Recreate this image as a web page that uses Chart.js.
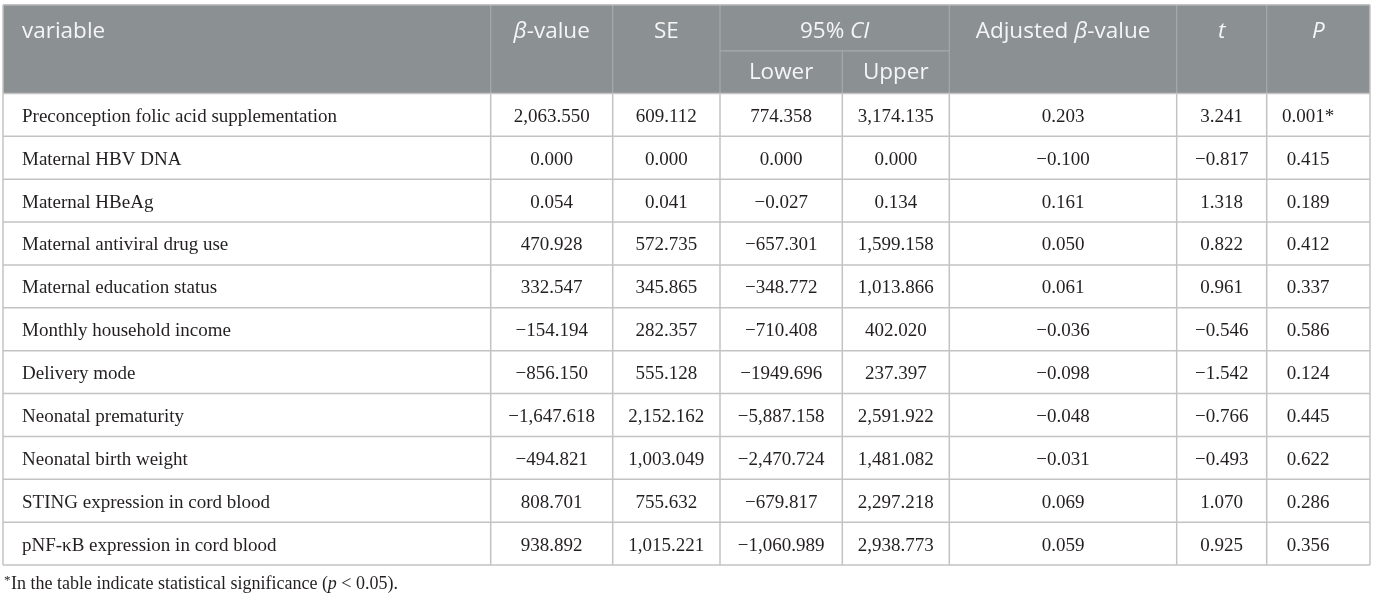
<!DOCTYPE html>
<html>
<head>
<meta charset="utf-8">
<title>Regression table</title>
<script src="https://cdn.jsdelivr.net/npm/chart.js@4.4.1/dist/chart.umd.min.js"></script>
<style>
    html, body { margin: 0; padding: 0; background: #ffffff; }
    canvas { display: block; }
</style>
</head>
<body>
<canvas id="tableChart" width="1375" height="599"></canvas>
<script>
// table values, one array per column
const variables = [
    'Preconception folic acid supplementation',
    'Maternal HBV DNA',
    'Maternal HBeAg',
    'Maternal antiviral drug use',
    'Maternal education status',
    'Monthly household income',
    'Delivery mode',
    'Neonatal prematurity',
    'Neonatal birth weight',
    'STING expression in cord blood',
    'pNF-\u03BAB expression in cord blood'
];
const betaValues = ['2,063.550', '0.000', '0.054', '470.928', '332.547', '\u2212154.194', '\u2212856.150', '\u22121,647.618', '\u2212494.821', '808.701', '938.892'];
const seValues = ['609.112', '0.000', '0.041', '572.735', '345.865', '282.357', '555.128', '2,152.162', '1,003.049', '755.632', '1,015.221'];
const ciLower = ['774.358', '0.000', '\u22120.027', '\u2212657.301', '\u2212348.772', '\u2212710.408', '\u22121949.696', '\u22125,887.158', '\u22122,470.724', '\u2212679.817', '\u22121,060.989'];
const ciUpper = ['3,174.135', '0.000', '0.134', '1,599.158', '1,013.866', '402.020', '237.397', '2,591.922', '1,481.082', '2,297.218', '2,938.773'];
const adjustedBeta = ['0.203', '\u22120.100', '0.161', '0.050', '0.061', '\u22120.036', '\u22120.098', '\u22120.048', '\u22120.031', '0.069', '0.059'];
const tValues = ['3.241', '\u22120.817', '1.318', '0.822', '0.961', '\u22120.546', '\u22121.542', '\u22120.766', '\u22120.493', '1.070', '0.925'];
const pValues = ['0.001*', '0.415', '0.189', '0.412', '0.337', '0.586', '0.124', '0.445', '0.622', '0.286', '0.356'];

// header labels, italic parts flagged
const headerLabels = [
    [{ t: 'variable' }],
    [{ t: '\u03B2', i: true }, { t: '-value' }],
    [{ t: 'SE' }],
    [{ t: '95% ' }, { t: 'CI', i: true }],
    [{ t: 'Adjusted ' }, { t: '\u03B2', i: true }, { t: '-value' }],
    [{ t: 't', i: true }],
    [{ t: 'P', i: true }]
];
const subHeaderLabels = ['Lower', 'Upper'];
const footnoteParts = [
    { t: 'In the table indicate statistical significance (' },
    { t: 'p', i: true },
    { t: ' < 0.05).' }
];

// layout (x in scale units, y in row units)
const colEdges = [3, 490.7, 612.7, 720, 842.3, 949.3, 1176.7, 1266.7, 1370];
const headerSplit = 1.075;  // bottom of first header line
const headerBottom = 2.07;
const rowCount = variables.length;
const pTextCenter = 1308;   // P column text sits left of centre

const headerFont = '"Open Sans", sans-serif';
const bodyFont = '"Liberation Serif", "Times New Roman", serif';

function drawSegments(ctx, parts, x, y, size, family, align) {
    let total = 0;
    parts.forEach(p => {
        ctx.font = (p.i ? 'italic ' : '') + size + 'px ' + family;
        p.w = ctx.measureText(p.t).width;
        total += p.w;
    });
    let cx = align === 'left' ? x : x - total / 2;
    ctx.textAlign = 'left';
    parts.forEach(p => {
        ctx.font = (p.i ? 'italic ' : '') + size + 'px ' + family;
        ctx.fillText(p.t, cx, y);
        cx += p.w;
    });
}

const tablePlugin = {
    id: 'tablePlugin',
    afterDraw(chart) {
        const ctx = chart.ctx;
        const xs = chart.scales.x;
        const ys = chart.scales.y;
        const X = v => xs.getPixelForValue(v);
        const Y = v => ys.getPixelForValue(v);
        const left = X(colEdges[0]);
        const right = X(colEdges[colEdges.length - 1]);
        const columns = [variables, betaValues, seValues, ciLower, ciUpper, adjustedBeta, tValues, pValues];

        ctx.save();

        // header background
        ctx.fillStyle = '#8b9093';
        ctx.fillRect(left, Y(0), right - left, Y(headerBottom) - Y(0));

        // header inner lines
        ctx.strokeStyle = '#a6aaac';
        ctx.lineWidth = 1.2;
        ctx.beginPath();
        for (let c = 1; c < colEdges.length - 1; c++) {
            const top = c === 4 ? Y(headerSplit) : Y(0);
            ctx.moveTo(X(colEdges[c]), top);
            ctx.lineTo(X(colEdges[c]), Y(headerBottom));
        }
        ctx.moveTo(X(colEdges[3]), Y(headerSplit));
        ctx.lineTo(X(colEdges[5]), Y(headerSplit));
        ctx.stroke();

        // body grid
        ctx.strokeStyle = '#c3c3c3';
        ctx.lineWidth = 1.5;
        ctx.beginPath();
        for (let r = 0; r <= rowCount; r++) {
            const y = Y(headerBottom + r);
            ctx.moveTo(left, y);
            ctx.lineTo(right, y);
        }
        colEdges.forEach(e => {
            ctx.moveTo(X(e), Y(headerBottom));
            ctx.lineTo(X(e), Y(headerBottom + rowCount));
        });
        // outer border round the header
        ctx.moveTo(left, Y(0));
        ctx.lineTo(right, Y(0));
        ctx.moveTo(left, Y(0));
        ctx.lineTo(left, Y(headerBottom));
        ctx.moveTo(right, Y(0));
        ctx.lineTo(right, Y(headerBottom));
        ctx.stroke();

        // header text
        ctx.fillStyle = '#f5f5f5';
        ctx.textBaseline = 'alphabetic';
        const headBase = Y(0) + 33;
        const headCols = [[0, 1], [1, 2], [2, 3], [3, 5], [5, 6], [6, 7], [7, 8]];
        headCols.forEach((span, k) => {
            if (k === 0) {
                drawSegments(ctx, headerLabels[k], X(colEdges[0]) + 19, headBase, 22.5, headerFont, 'left');
            } else {
                const cx = (X(colEdges[span[0]]) + X(colEdges[span[1]])) / 2;
                drawSegments(ctx, headerLabels[k], cx, headBase, 22.5, headerFont, 'center');
            }
        });
        const subBase = Y(headerSplit) + 28;
        subHeaderLabels.forEach((lab, k) => {
            const cx = (X(colEdges[3 + k]) + X(colEdges[4 + k])) / 2;
            drawSegments(ctx, [{ t: lab }], cx, subBase, 22.5, headerFont, 'center');
        });

        // body text
        ctx.fillStyle = '#231f20';
        ctx.font = '19px ' + bodyFont;
        for (let r = 0; r < rowCount; r++) {
            const base = (Y(headerBottom + r) + Y(headerBottom + r + 1)) / 2 + 7;
            columns.forEach((col, c) => {
                if (c === 0) {
                    ctx.textAlign = 'left';
                    ctx.fillText(col[r], X(colEdges[0]) + 19, base);
                } else {
                    ctx.textAlign = 'center';
                    const cx = c === 7 ? X(pTextCenter) : (X(colEdges[c]) + X(colEdges[c + 1])) / 2;
                    ctx.fillText(col[r], cx, base);
                }
            });
        }

        // footnote under the table
        const footBase = Y(headerBottom + rowCount) + 24;
        ctx.font = '13px ' + bodyFont;
        ctx.textAlign = 'left';
        ctx.fillText('*', left + 1, footBase - 5);
        drawSegments(ctx, footnoteParts, left + 8, footBase, 18, bodyFont, 'left');

        ctx.restore();
    }
};

const ctx = document.getElementById('tableChart').getContext('2d');
new Chart(ctx, {
    type: 'scatter',
    data: { datasets: [] },
    options: {
        responsive: false,
        animation: false,
        devicePixelRatio: 1,
        layout: { padding: { left: 3, top: 4.7, right: 5, bottom: 34 } },
        plugins: {
            legend: { display: false },
            tooltip: { enabled: false }
        },
        scales: {
            x: { type: 'linear', min: colEdges[0], max: colEdges[colEdges.length - 1], display: false },
            y: { type: 'linear', min: 0, max: headerBottom + rowCount, reverse: true, display: false }
        }
    },
    plugins: [tablePlugin]
});
</script>
</body>
</html>
